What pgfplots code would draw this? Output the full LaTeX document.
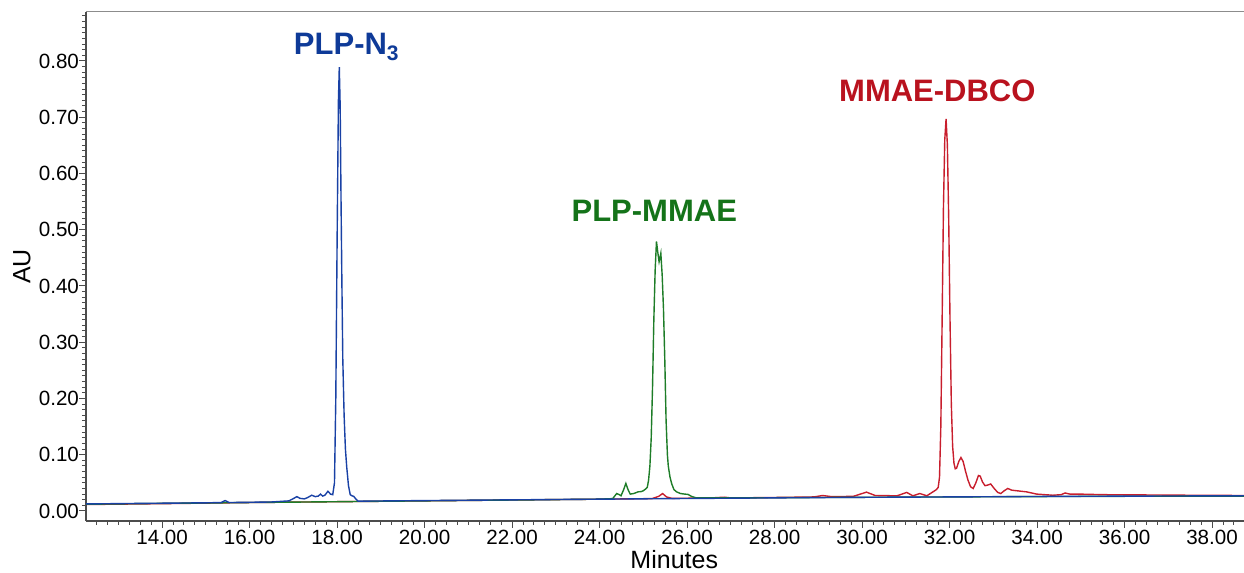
\documentclass[border=0pt]{standalone}
\usepackage{fontspec}
\setmainfont{Liberation Sans}
\usepackage{pgfplots}
\pgfplotsset{compat=1.18}

\definecolor{nthree}{RGB}{25,65,165}
\definecolor{nthreelab}{RGB}{14,58,152}
\definecolor{mmae}{RGB}{30,125,40}
\definecolor{mmaelab}{RGB}{20,115,25}
\definecolor{dbco}{RGB}{200,30,45}
\definecolor{dbcolab}{RGB}{185,18,30}

\begin{document}
\begin{tikzpicture}
\begin{axis}[
  name=ax,
  scale only axis,
  width=579pt, height=254.5pt,
  xmin=12.26, xmax=38.73,
  ymin=-0.0178, ymax=0.887,
  axis x line*=bottom, axis y line*=left,
  axis line style={black!70, line width=0.6pt},
  tick align=outside,
  tick style={black!70, line width=0.5pt},
  major tick length=3.5pt, minor tick length=2pt,
  xtick={14,16,...,38},
  ytick={0,0.1,0.2,0.3,0.4,0.5,0.6,0.7,0.8},
  minor xtick={12.5,12.75,...,38.5},
  minor ytick={0.01,0.02,...,0.88},
  /pgf/number format/assume math mode=true,
  tick label style={font=\fontsize{10.3}{11}\selectfont},
  xticklabel style={yshift=2.5pt, /pgf/number format/.cd, fixed, fixed zerofill, precision=2},
  yticklabel style={xshift=3.5pt, /pgf/number format/.cd, fixed, fixed zerofill, precision=2},
  xlabel={Minutes}, ylabel={AU},
  every axis x label/.style={at={(rel axis cs:0.508,0)}, yshift=-19.5pt, anchor=center, font=\fontsize{12.5}{14}\selectfont},
  every axis y label/.style={at={(rel axis cs:0,0.5)}, xshift=-32pt, rotate=90, anchor=center, font=\fontsize{12.5}{14}\selectfont},
]
% MMAE-DBCO
\addplot[dbco, line width=0.7pt] coordinates {
(12.26,0.0115) (14,0.0130) (16,0.0150) (18,0.0165) (20,0.0180) (22,0.0195) (24,0.0210)
(25.20,0.0220) (25.35,0.0260) (25.44,0.0310) (25.53,0.0250) (25.65,0.0225) (26.5,0.0230)
(26.85,0.0245) (27.0,0.0232) (28,0.0240) (28.9,0.0250) (29.1,0.0275) (29.3,0.0255)
(29.8,0.0260) (30.1,0.0335) (30.3,0.0275) (30.8,0.0270) (31.02,0.0330) (31.16,0.0270)
(31.32,0.0310) (31.48,0.0270) (31.62,0.0340) (31.70,0.0380) (31.74,0.0420)
(31.77,0.060) (31.80,0.150) (31.83,0.340) (31.86,0.540) (31.89,0.660) (31.92,0.697)
(31.95,0.650) (31.98,0.520) (32.01,0.340) (32.04,0.190) (32.07,0.115) (32.10,0.085)
(32.13,0.075) (32.16,0.076) (32.21,0.088) (32.26,0.095) (32.31,0.088) (32.36,0.072)
(32.42,0.055) (32.48,0.043) (32.54,0.040) (32.60,0.050) (32.66,0.063) (32.70,0.062)
(32.75,0.052) (32.81,0.045) (32.87,0.046) (32.94,0.048) (33.02,0.040) (33.10,0.033)
(33.17,0.031) (33.25,0.036) (33.33,0.040) (33.42,0.037) (33.53,0.036) (33.76,0.034)
(33.99,0.030) (34.36,0.028) (34.55,0.029) (34.64,0.032) (34.75,0.030) (34.98,0.030)
(35.5,0.029) (36.5,0.0285) (37.5,0.0280) (38.73,0.0275)
};
% PLP-MMAE
\addplot[mmae, line width=0.7pt] coordinates {
(12.26,0.0120) (14,0.0135) (16,0.0150) (18,0.0165) (20,0.0180) (22,0.0195) (24,0.0210)
(24.30,0.0220) (24.39,0.0310) (24.45,0.0290) (24.49,0.0270) (24.55,0.0380) (24.60,0.0490)
(24.65,0.0380) (24.70,0.0300) (24.78,0.0310) (24.88,0.0340) (24.95,0.0345) (25.00,0.0360)
(25.05,0.0390) (25.09,0.0420) (25.12,0.0550) (25.15,0.0800) (25.18,0.1300) (25.21,0.2200)
(25.24,0.3400) (25.27,0.4280) (25.30,0.4790) (25.33,0.4600) (25.36,0.4430) (25.38,0.4500)
(25.40,0.4580) (25.43,0.4200) (25.46,0.3600) (25.49,0.2700) (25.52,0.1600) (25.55,0.1000)
(25.57,0.0800) (25.61,0.0600) (25.65,0.0480) (25.70,0.0380) (25.76,0.0340) (25.85,0.0310)
(25.95,0.0300) (26.02,0.0295) (26.10,0.0260) (26.20,0.0235) (27,0.0232) (28,0.0236)
(30,0.0243) (32,0.0250) (34,0.0256) (36,0.0261) (38.73,0.0265)
};
% PLP-N3
\addplot[nthree, line width=0.7pt] coordinates {
(12.26,0.0125) (13.5,0.0135) (15.0,0.0145) (15.35,0.0150) (15.44,0.0185) (15.53,0.0150)
(16.0,0.0155) (16.5,0.0160) (16.9,0.0180) (17.0,0.0220) (17.08,0.0255) (17.15,0.0225)
(17.25,0.0215) (17.33,0.0240) (17.42,0.0280) (17.50,0.0255) (17.57,0.0265) (17.62,0.0300)
(17.67,0.0265) (17.72,0.0280) (17.79,0.0350) (17.85,0.0300) (17.90,0.0290) (17.94,0.0500)
(17.97,0.2000) (18.00,0.4800) (18.03,0.7300) (18.05,0.7890) (18.07,0.7200) (18.09,0.5500)
(18.11,0.4000) (18.13,0.2700) (18.16,0.1700) (18.19,0.1100) (18.22,0.0780) (18.26,0.0450)
(18.30,0.0290) (18.34,0.0270) (18.38,0.0260) (18.43,0.0210) (18.48,0.0175) (19,0.0178)
(20,0.0185) (22,0.0198) (24,0.0210) (26,0.0222) (28,0.0233) (30,0.0243) (32,0.0250)
(34,0.0258) (36,0.0264) (38.73,0.0270)
};
\node[anchor=base, text=nthreelab, font=\bfseries\fontsize{15.5}{17}\selectfont]
  at (axis cs:18.21,0.811) {PLP-N\raisebox{-0.35ex}{\fontsize{10.5}{12}\selectfont 3}};
\node[anchor=base, text=mmaelab, font=\bfseries\fontsize{15.5}{17}\selectfont]
  at (axis cs:25.25,0.514) {PLP-MMAE};
\node[anchor=base, text=dbcolab, font=\bfseries\fontsize{15.5}{17}\selectfont]
  at (axis cs:31.72,0.727) {MMAE-DBCO};
\end{axis}
\draw[black!45, line width=0.5pt] (ax.north west) -- (ax.north east);
\pgfresetboundingbox
\path (ax.south west) ++(-43pt,-26pt) rectangle ++(622pt,286.5pt);
\end{tikzpicture}
\end{document}
